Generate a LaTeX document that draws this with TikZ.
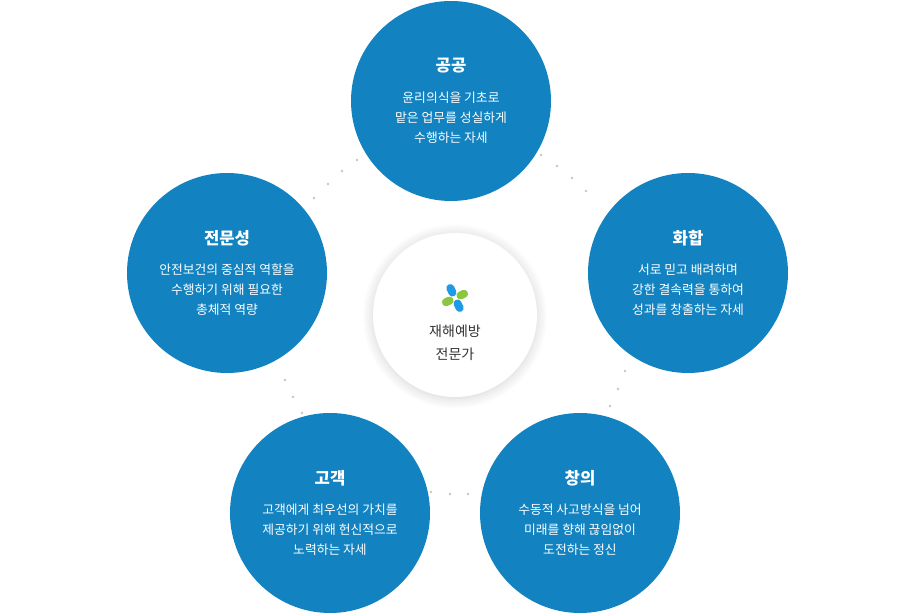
\documentclass[tikz,border=0pt]{standalone}
\usepackage{fontspec}
\setmainfont{Noto Sans CJK KR}
\usetikzlibrary{shadows.blur}
\definecolor{vblue}{HTML}{1282C0}
\definecolor{vgreen}{HTML}{8CC63F}
\definecolor{vsky}{HTML}{1E9BE6}
\tikzset{
  value/.style={circle, fill=vblue, minimum size=150pt, inner sep=0pt,
    text=white, align=center, font=\fontsize{9.6}{15}\selectfont},
  hub/.style={circle, fill=white, minimum size=123pt, inner sep=0pt,
    blur shadow={shadow blur steps=12, shadow xshift=0pt, shadow yshift=-1pt,
      shadow opacity=18, shadow blur radius=8pt}},
  title/.style={font=\fontsize{12.5}{15}\selectfont\bfseries},
  dot/.style={circle, fill=gray!45, inner sep=0pt, minimum size=2pt}
}
\begin{document}
\begin{tikzpicture}[x=0.75pt, y=-0.75pt]
        \useasboundingbox (0,0) rectangle (915,616);

        % dots between the circles
        \foreach \px/\py in {357/160, 342/171, 328/184, 314/198,
                             541/155, 557/166, 572/178, 586/191,
                             625/371, 618/389, 610/406,
                             431/492, 450/494, 468/494,
                             285/380, 293/397, 302/413}
          \node[dot] at (\px,\py) {};

        % center
        \node[hub] (hub) at (455,315) {};
        \fill[vsky, rotate around={25:(455,298)}, rounded corners=3pt]
          (451,283) rectangle (459,296) (451,300) rectangle (459,313);
        \fill[vgreen, rotate around={25:(455,298)}, rounded corners=3pt]
          (441,294) rectangle (453,302) (457,294) rectangle (469,302);
        \node[align=center, font=\fontsize{10.5}{17}\selectfont, text=black!80]
          (hubtxt) at (455,343) {재해예방\\전문가};

        % top
        \node[value] (public) at (451,101)
          {{\usefont{TU}{\familydefault}{b}{n}\fontsize{12.5}{15}\selectfont 공공}\\[8pt]
           윤리의식을 기초로\\맡은 업무를 성실하게\\수행하는 자세};
        % right
        \node[value] (harmony) at (688,273)
          {{\fontsize{12.5}{15}\selectfont\bfseries 화합}\\[8pt]
           서로 믿고 배려하며\\강한 결속력을 통하여\\성과를 창출하는 자세};
        % bottom right
        \node[value] (create) at (580,513)
          {{\fontsize{12.5}{15}\selectfont\bfseries 창의}\\[8pt]
           수동적 사고방식을 넘어\\미래를 향해 끊임없이\\도전하는 정신};
        % bottom left
        \node[value] (client) at (330,513)
          {{\fontsize{12.5}{15}\selectfont\bfseries 고객}\\[8pt]
           고객에게 최우선의 가치를\\제공하기 위해 헌신적으로\\노력하는 자세};
        % left
        \node[value] (expert) at (227,273)
          {{\fontsize{12.5}{15}\selectfont\bfseries 전문성}\\[8pt]
           안전보건의 중심적 역할을\\수행하기 위해 필요한\\총체적 역량};
\end{tikzpicture}
\end{document}
